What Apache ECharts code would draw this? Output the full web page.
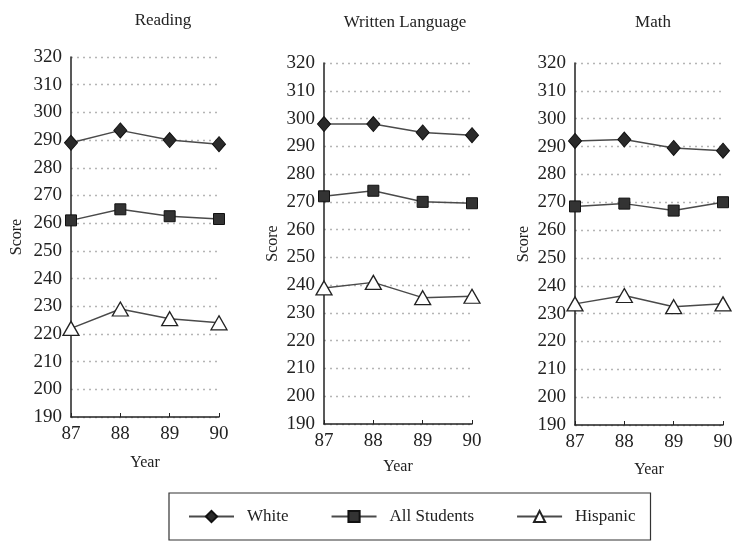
<!DOCTYPE html>
<html>
<head>
<meta charset="utf-8">
<script src="https://cdn.jsdelivr.net/npm/echarts@6/dist/echarts.min.js"></script>
<style>html,body{margin:0;padding:0;background:#fff}#c{width:738px;height:541px}</style>
</head>
<body>
<div id="c"></div>
<script>
const years = ['87', '88', '89', '90'];
const panelTitles = ['Reading', 'Written Language', 'Math'];
const seriesNames = ['White', 'All Students', 'Hispanic'];
const readingWhite = [289, 293.5, 290, 288.5];
const readingAll = [261, 265, 262.5, 261.5];
const readingHisp = [222, 229, 225.5, 224];
const writtenWhite = [298, 298, 295, 294];
const writtenAll = [272, 274, 270, 269.5];
const writtenHisp = [239, 241, 235.5, 236];
const mathWhite = [292, 292.5, 289.5, 288.5];
const mathAll = [268.5, 269.5, 267, 270];
const mathHisp = [233.5, 236.5, 232.5, 233.5];

const panels = [
  [readingWhite, readingAll, readingHisp],
  [writtenWhite, writtenAll, writtenHisp],
  [mathWhite, mathAll, mathHisp]
];

const FONT = '"Liberation Serif", "DejaVu Serif", serif';
const INK = '#222';
const LINE = '#4a4a4a';

const grids = [
  {left: 71, top: 57, width: 148, height: 360},
  {left: 324, top: 63, width: 148, height: 361},
  {left: 575, top: 63, width: 148, height: 362}
];
const titlePos = [[158, 7], [400, 9], [648, 9]];
const yNameGap = [46, 43, 43];
const xNameGap = [38, 35, 37];

const styles = [
  {symbol: 'diamond', symbolSize: [13, 15], itemStyle: {color: '#2a2a2a', borderColor: '#111', borderWidth: 1}},
  {symbol: 'rect', symbolSize: 11, itemStyle: {color: '#333', borderColor: '#111', borderWidth: 1}},
  {symbol: 'triangle', symbolSize: [16, 14], itemStyle: {color: '#fff', borderColor: '#222', borderWidth: 1.3}}
];

const option = {
  backgroundColor: '#fff',
  animation: false,
  title: panelTitles.map((t, i) => ({
    text: t, left: titlePos[i][0], top: titlePos[i][1], textAlign: 'center',
    textStyle: {fontFamily: FONT, fontSize: 17, fontWeight: 'normal', color: INK}
  })),
  legend: {
    data: seriesNames,
    left: 169, top: 493,
    padding: [15, 15, 15, 19],
    itemWidth: 45, itemHeight: 14, itemGap: 42,
    borderColor: '#333', borderWidth: 1.2,
    textStyle: {fontFamily: FONT, fontSize: 17, color: INK, padding: [0, 0, 0, 8]}
  },
  grid: grids,
  xAxis: grids.map((g, i) => ({
    type: 'category', gridIndex: i, data: years, boundaryGap: false,
    name: 'Year', nameLocation: 'middle', nameGap: xNameGap[i],
    nameTextStyle: {fontFamily: FONT, fontSize: 16, color: INK},
    axisLine: {lineStyle: {color: INK, width: 1.5}},
    axisTick: {inside: true, length: 4, lineStyle: {color: INK}},
    axisLabel: {fontFamily: FONT, fontSize: 19, color: INK, margin: 8},
    splitLine: {show: false}
  })),
  yAxis: grids.map((g, i) => ({
    type: 'value', gridIndex: i, min: 190, max: 320, interval: 10,
    name: 'Score', nameLocation: 'middle', nameGap: yNameGap[i],
    nameTextStyle: {fontFamily: FONT, fontSize: 16, color: INK},
    axisLine: {show: true, lineStyle: {color: INK, width: 1.5}},
    axisTick: {show: false},
    axisLabel: {fontFamily: FONT, fontSize: 19, color: INK, margin: 9},
    splitLine: {show: true, lineStyle: {color: '#b5b5b5', type: [2, 4], width: 1.3}}
  })),
  series: []
};

panels.forEach((vals, p) => {
  vals.forEach((arr, s) => {
    option.series.push(Object.assign({
      type: 'line', name: seriesNames[s], xAxisIndex: p, yAxisIndex: p,
      data: arr, showAllSymbol: true,
      lineStyle: {color: LINE, width: 1.5},
      z: 3
    }, styles[s]));
  });
});

const chart = echarts.init(document.getElementById('c'), null, {renderer: 'canvas'});
chart.setOption(option);
</script>
</body>
</html>
